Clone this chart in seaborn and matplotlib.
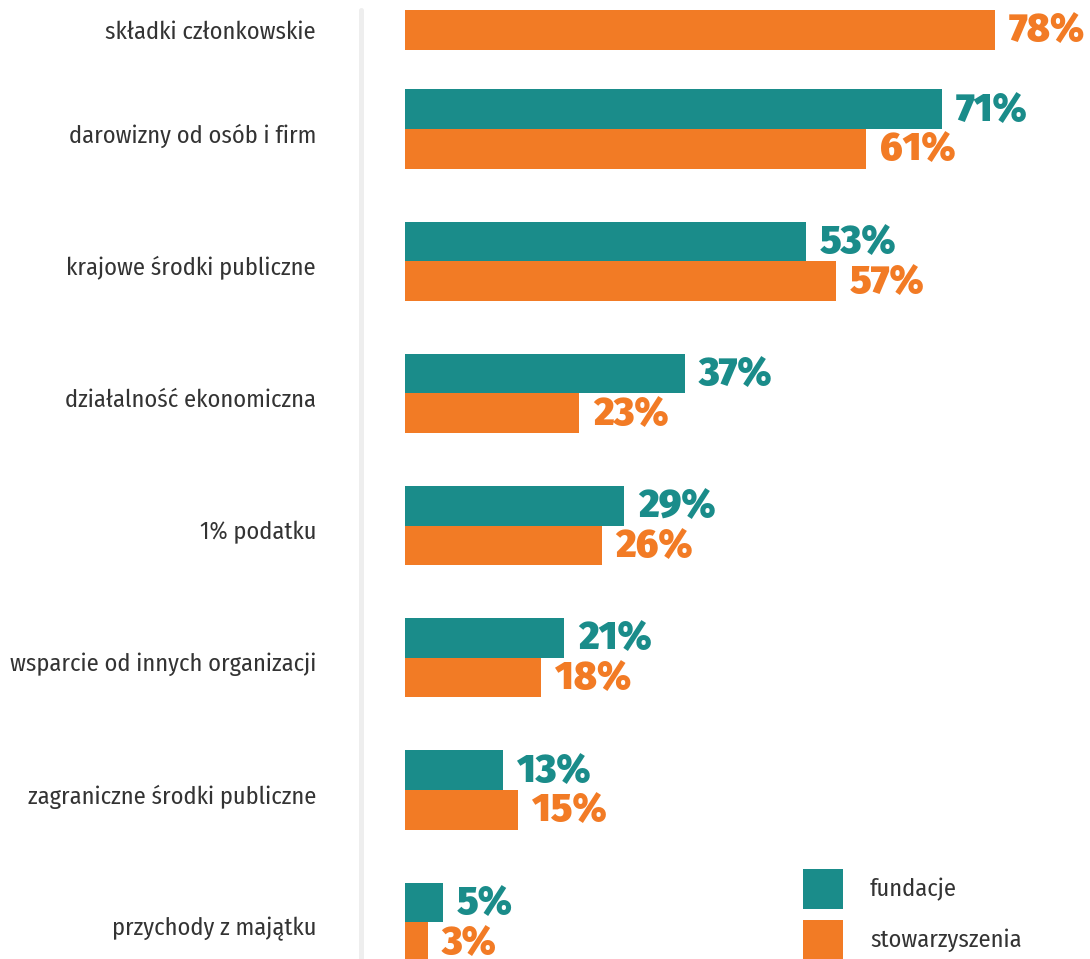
import numpy as np
import pandas as pd
import seaborn as sns
import matplotlib.pyplot as plt
from matplotlib.lines import Line2D
from matplotlib.patches import Rectangle

# data
categories = ["składki członkowskie", "darowizny od osób i firm", "krajowe środki publiczne",
              "działalność ekonomiczna", "1% podatku", "wsparcie od innych organizacji",
              "zagraniczne środki publiczne", "przychody z majątku"]
fundacje = [np.nan, 71, 53, 37, 29, 21, 13, 5]
stowarzyszenia = [78, 61, 57, 23, 26, 18, 15, 3]
series_names = ["fundacje", "stowarzyszenia"]
colors = {"fundacje": "#1a8c8a", "stowarzyszenia": "#f27b25"}

# group centres (first group holds a single bar, so it sits closer to the top)
cat_pos = [0.25] + list(range(1, len(categories)))

rows = []
for i, c in enumerate(categories):
    both = not np.isnan(fundacje[i])
    off = 0.15 if both else 0.0
    if both:
        rows.append({"pos": cat_pos[i] - off, "value": fundacje[i], "series": "fundacje"})
    rows.append({"pos": cat_pos[i] + off, "value": stowarzyszenia[i], "series": "stowarzyszenia"})
df = pd.DataFrame(rows)

sns.set_style("white")
label_font = ["Fira Sans Condensed", "Roboto", "DejaVu Sans"]
value_font = ["Fira Sans", "Lato", "DejaVu Sans"]
plt.rcParams["font.family"] = label_font

fig = plt.figure(figsize=(10.9, 9.59), dpi=100)
ax = fig.add_axes([405 / 1090, 0, 685 / 1090, 1])

sns.barplot(data=df, x="value", y="pos", hue="series", orient="h", native_scale=True,
            dodge=False, width=1, palette=colors, errorbar=None, saturation=1,
            linewidth=0, legend=False, ax=ax)

ax.set_xlim(0, 685 / 7.56)
ax.set_ylim(1 + 830 / 132.2, 1 - 129 / 132.2)

for _, r in df.iterrows():
    ax.text(r["value"] + 1.85, r["pos"] + 0.01, f"{int(r['value'])}%", va="center", ha="left",
            fontsize=28, fontweight=900, family=value_font,
            color=colors[r["series"]], clip_on=False)

ax.set_yticks([p + 0.03 if p >= 1 else p for p in cat_pos], categories)
ax.tick_params(axis="y", length=0, pad=64, labelsize=17.5, labelcolor="#333333")
ax.set_xticks([])
ax.set_xlabel("")
ax.set_ylabel("")
sns.despine(ax=ax, left=True, bottom=True)

# light vertical divider
fig.add_artist(Line2D([360.5 / 1090] * 2, [0, 1 - 10 / 959], transform=fig.transFigure,
                      color="#eeeeee", lw=3.6))

# legend: square swatches with labels to their right
W, H = 1090, 959
for k, s in enumerate(series_names):
    top = 869 + 51 * k
    fig.add_artist(Rectangle((803 / W, 1 - (top + 40) / H), 40 / W, 40 / H,
                             transform=fig.transFigure, color=colors[s], lw=0))
    fig.text(870 / W, 1 - (top + 20) / H, s, va="center", ha="left",
             fontsize=17.5, color="#333333")

fig.savefig("out.png", dpi=100)
